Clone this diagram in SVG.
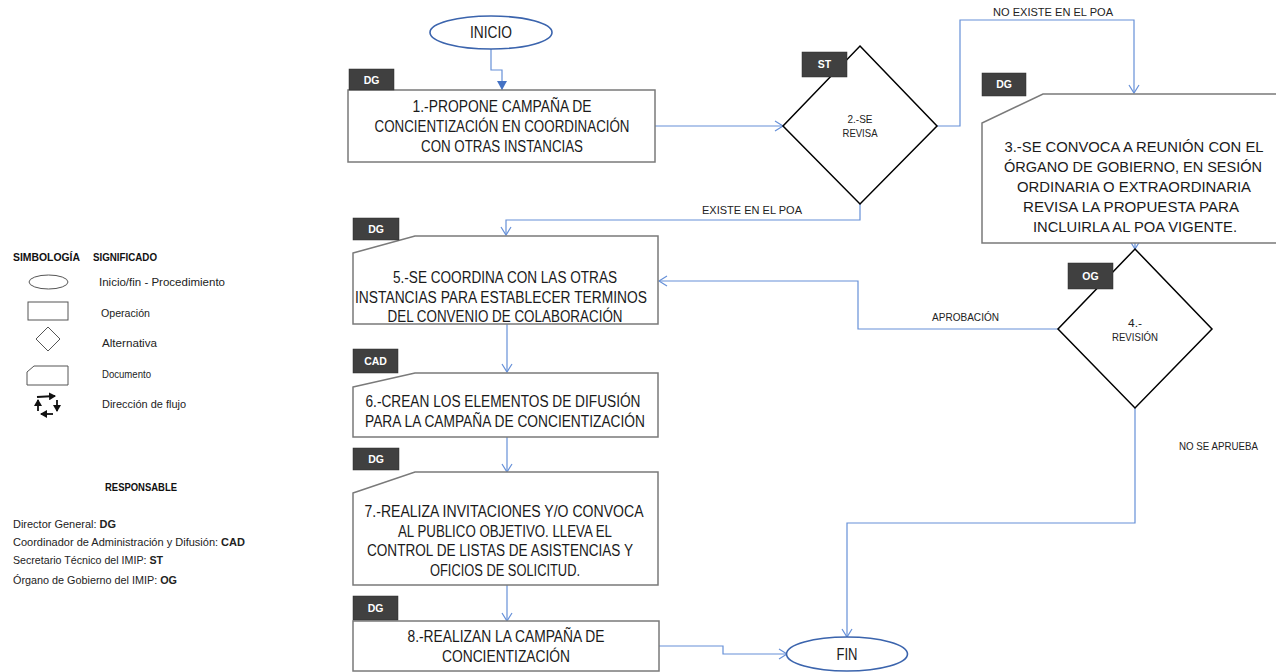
<svg xmlns="http://www.w3.org/2000/svg" width="1276" height="672" viewBox="0 0 1276 672">
  <defs>
    <style>
      .box { fill: #ffffff; stroke: #7a7a7a; stroke-width: 1.5; }
      .dia { fill: #ffffff; stroke: #000000; stroke-width: 1.5; }
      .term { fill: #ffffff; stroke: #3b64ad; stroke-width: 1.6; }
      .tag { fill: #404040; stroke: #2a2a2a; stroke-width: 0.5; }
      .tagt { font-family: "Liberation Sans", Arial, sans-serif; font-size: 10.5px; font-weight: bold; fill: #ffffff; text-anchor: middle; }
      .bt { font-family: "Liberation Sans", Arial, sans-serif; font-size: 16px; fill: #1a1a1a; text-anchor: middle; }
      .bt3 { font-size: 15px; }
      .dt { font-family: "Liberation Sans", Arial, sans-serif; font-size: 11.5px; fill: #222222; text-anchor: middle; }
      .lbl { font-family: "Liberation Sans", Arial, sans-serif; font-size: 11px; fill: #222222; }
      .lg { font-family: "Liberation Sans", Arial, sans-serif; font-size: 10.5px; fill: #222222; }
      .lgb { font-family: "Liberation Sans", Arial, sans-serif; font-size: 10.5px; font-weight: bold; fill: #111111; }
      .conn { fill: none; stroke: #6690d8; stroke-width: 1.2; }
      .lsym { fill: #ffffff; stroke: #555555; stroke-width: 1; }
    </style>
    <marker id="open" markerUnits="userSpaceOnUse" markerWidth="12" markerHeight="12" refX="9" refY="6" orient="auto">
      <path d="M1,1 L9,6 L1,11" fill="none" stroke="#6690d8" stroke-width="1.2"/>
    </marker>
    <marker id="solid" markerUnits="userSpaceOnUse" markerWidth="12" markerHeight="12" refX="9" refY="6" orient="auto">
      <path d="M0,1 L9,6 L0,11 Z" fill="#4472c4"/>
    </marker>
    <marker id="blk" markerUnits="userSpaceOnUse" markerWidth="8" markerHeight="8" refX="6" refY="4" orient="auto">
      <path d="M0,0 L7,4 L0,8 Z" fill="#111111"/>
    </marker>
  </defs>

  <rect width="1276" height="672" fill="#ffffff"/>

  <!-- legend -->
  <g id="legend">
    <text class="lgb" x="13" y="261" textLength="67" lengthAdjust="spacingAndGlyphs">SIMBOLOGÍA</text>
    <text class="lgb" x="93" y="261" textLength="64" lengthAdjust="spacingAndGlyphs">SIGNIFICADO</text>
    <ellipse class="lsym" cx="48.5" cy="282" rx="19.5" ry="7"/>
    <text class="lg" x="99" y="286" textLength="126" lengthAdjust="spacingAndGlyphs">Inicio/fin - Procedimiento</text>
    <rect class="lsym" x="28" y="302" width="40" height="18"/>
    <text class="lg" x="101" y="317" textLength="49" lengthAdjust="spacingAndGlyphs">Operación</text>
    <path class="lsym" d="M48,327 L60,339 L48,351 L36,339 Z"/>
    <text class="lg" x="102" y="347" textLength="55" lengthAdjust="spacingAndGlyphs">Alternativa</text>
    <path class="lsym" d="M27,372 L34,366 L68,366 L68,385 L27,385 Z"/>
    <text class="lg" x="102" y="378" textLength="49" lengthAdjust="spacingAndGlyphs">Documento</text>
    <g stroke="#111111" stroke-width="1.8" fill="none">
      <line x1="37" y1="397" x2="55" y2="396" marker-end="url(#blk)"/>
      <line x1="57" y1="400" x2="57" y2="411" marker-end="url(#blk)"/>
      <line x1="53" y1="414" x2="41" y2="414" marker-end="url(#blk)"/>
      <line x1="38" y1="411" x2="38" y2="400" marker-end="url(#blk)"/>
    </g>
    <text class="lg" x="102" y="408" textLength="84" lengthAdjust="spacingAndGlyphs">Dirección de flujo</text>

    <text class="lgb" x="105" y="491" textLength="72" lengthAdjust="spacingAndGlyphs">RESPONSABLE</text>
    <text class="lg" x="13" y="528" textLength="103" lengthAdjust="spacingAndGlyphs">Director General: <tspan font-weight="bold">DG</tspan></text>
    <text class="lg" x="13" y="546" textLength="232" lengthAdjust="spacingAndGlyphs">Coordinador de Administración y Difusión: <tspan font-weight="bold">CAD</tspan></text>
    <text class="lg" x="13" y="564" textLength="150" lengthAdjust="spacingAndGlyphs">Secretario Técnico del IMIP: <tspan font-weight="bold">ST</tspan></text>
    <text class="lg" x="13" y="584" textLength="164" lengthAdjust="spacingAndGlyphs">Órgano de Gobierno del IMIP: <tspan font-weight="bold">OG</tspan></text>
  </g>

  <!-- connectors -->
  <g id="connectors">
    <path class="conn" d="M491,49 V70 H502 V90" marker-end="url(#solid)" stroke="#4472c4"/>
    <path class="conn" d="M655,126 H783" marker-end="url(#open)"/>
    <path class="conn" d="M937,126 H960 V20 H1134 V93" marker-end="url(#open)"/>
    <path class="conn" d="M860,204 V220 H506 V235" marker-end="url(#open)"/>
    <path class="conn" d="M1135,243 V249" marker-end="url(#open)"/>
    <path class="conn" d="M1058,329 H858 V281 H659" marker-end="url(#open)"/>
    <path class="conn" d="M1135,408 V523 H847 V637" marker-end="url(#open)"/>
    <path class="conn" d="M507,324 V372" marker-end="url(#open)"/>
    <path class="conn" d="M507,437 V472" marker-end="url(#open)"/>
    <path class="conn" d="M507,585 V621" marker-end="url(#open)"/>
    <path class="conn" d="M659,646 H723 V654 H787" marker-end="url(#open)"/>
    <text class="lbl" x="993" y="16" textLength="120" lengthAdjust="spacingAndGlyphs">NO EXISTE  EN EL POA</text>
    <text class="lbl" x="702" y="214" textLength="100" lengthAdjust="spacingAndGlyphs">EXISTE  EN EL POA</text>
    <text class="lbl" x="932" y="321" textLength="67" lengthAdjust="spacingAndGlyphs">APROBACIÓN</text>
    <text class="lbl" x="1179" y="450" textLength="79" lengthAdjust="spacingAndGlyphs">NO SE APRUEBA</text>
  </g>

  <!-- start -->
  <g id="inicio">
    <ellipse class="term" cx="491" cy="32.5" rx="61" ry="16.5"/>
    <text class="bt" x="491" y="38" font-size="14" textLength="42" lengthAdjust="spacingAndGlyphs">INICIO</text>
  </g>

  <!-- step 1 -->
  <g id="paso1">
    <rect class="box" x="348" y="90" width="307" height="72" stroke="#5a5a5a"/>
    <rect class="tag" x="349" y="69" width="45" height="21"/>
    <text class="tagt" x="371.5" y="84">DG</text>
    <text class="bt" x="502" y="112" textLength="179" lengthAdjust="spacingAndGlyphs">1.-PROPONE CAMPAÑA DE</text>
    <text class="bt" x="502" y="132" textLength="255" lengthAdjust="spacingAndGlyphs">CONCIENTIZACIÓN EN COORDINACIÓN</text>
    <text class="bt" x="502" y="152" textLength="162" lengthAdjust="spacingAndGlyphs">CON OTRAS INSTANCIAS</text>
  </g>

  <!-- step 2 -->
  <g id="paso2">
    <path class="dia" d="M860,46 L937,126 L860,204 L783,126 Z"/>
    <rect class="tag" x="802" y="52" width="45" height="25"/>
    <text class="tagt" x="824.5" y="68">ST</text>
    <text class="dt" x="860" y="123" textLength="25" lengthAdjust="spacingAndGlyphs">2.-SE</text>
    <text class="dt" x="860" y="137" textLength="35" lengthAdjust="spacingAndGlyphs">REVISA</text>
  </g>

  <!-- step 3: document shape running past the right edge -->
  <g id="paso3">
    <path class="box" d="M1280,243 L982,243 L982,123 L1043,94 L1280,94"/>
    <rect class="tag" x="982" y="73" width="44" height="23"/>
    <text class="tagt" x="1004" y="88">DG</text>
    <text class="bt bt3" x="1134" y="152" textLength="259" lengthAdjust="spacingAndGlyphs">3.-SE CONVOCA A REUNIÓN CON EL</text>
    <text class="bt bt3" x="1133" y="172" textLength="258" lengthAdjust="spacingAndGlyphs">ÓRGANO DE GOBIERNO, EN SESIÓN</text>
    <text class="bt bt3" x="1134" y="192" textLength="234" lengthAdjust="spacingAndGlyphs">ORDINARIA O EXTRAORDINARIA</text>
    <text class="bt bt3" x="1131" y="212" textLength="216" lengthAdjust="spacingAndGlyphs">REVISA LA PROPUESTA  PARA</text>
    <text class="bt bt3" x="1135" y="232" textLength="204" lengthAdjust="spacingAndGlyphs">INCLUIRLA AL POA VIGENTE.</text>
  </g>

  <!-- step 4 -->
  <g id="paso4">
    <path class="dia" d="M1135,249 L1212,329 L1135,408 L1058,329 Z"/>
    <rect class="tag" x="1068" y="263" width="45" height="26"/>
    <text class="tagt" x="1090.5" y="280">OG</text>
    <text class="dt" x="1135" y="327" textLength="14" lengthAdjust="spacingAndGlyphs">4.-</text>
    <text class="dt" x="1135" y="341" textLength="46" lengthAdjust="spacingAndGlyphs">REVISIÓN</text>
  </g>

  <!-- step 5 -->
  <g id="paso5">
    <path class="box" d="M353,253 L415,236 L658,236 L658,324 L353,324 Z"/>
    <rect class="tag" x="353" y="218" width="46" height="22"/>
    <text class="tagt" x="376" y="233">DG</text>
    <text class="bt" x="505" y="283" textLength="224" lengthAdjust="spacingAndGlyphs">5.-SE COORDINA CON LAS OTRAS</text>
    <text class="bt" x="501" y="303" textLength="292" lengthAdjust="spacingAndGlyphs">INSTANCIAS PARA ESTABLECER TERMINOS</text>
    <text class="bt" x="505" y="322" textLength="235" lengthAdjust="spacingAndGlyphs">DEL CONVENIO DE COLABORACIÓN</text>
  </g>

  <!-- step 6 -->
  <g id="paso6">
    <path class="box" d="M353,387 L415,373 L658,373 L658,437 L353,437 Z"/>
    <rect class="tag" x="353" y="349" width="45" height="24"/>
    <text class="tagt" x="375.5" y="365">CAD</text>
    <text class="bt" x="503" y="407" textLength="275" lengthAdjust="spacingAndGlyphs">6.-CREAN LOS ELEMENTOS DE DIFUSIÓN</text>
    <text class="bt" x="505" y="427" textLength="280" lengthAdjust="spacingAndGlyphs">PARA LA CAMPAÑA DE CONCIENTIZACIÓN</text>
  </g>

  <!-- step 7 -->
  <g id="paso7">
    <path class="box" d="M353,493 L415,472 L658,472 L658,585 L353,585 Z"/>
    <rect class="tag" x="353" y="448" width="46" height="22"/>
    <text class="tagt" x="376" y="463">DG</text>
    <text class="bt" x="504" y="517" textLength="279" lengthAdjust="spacingAndGlyphs">7.-REALIZA INVITACIONES Y/O CONVOCA</text>
    <text class="bt" x="505" y="537" textLength="214" lengthAdjust="spacingAndGlyphs">AL PUBLICO OBJETIVO. LLEVA EL</text>
    <text class="bt" x="500" y="556" textLength="266" lengthAdjust="spacingAndGlyphs">CONTROL DE LISTAS DE ASISTENCIAS Y</text>
    <text class="bt" x="505" y="576" textLength="150" lengthAdjust="spacingAndGlyphs">OFICIOS DE SOLICITUD.</text>
  </g>

  <!-- step 8 -->
  <g id="paso8">
    <rect class="box" x="353" y="621" width="306" height="50"/>
    <rect class="tag" x="353" y="596" width="45" height="24"/>
    <text class="tagt" x="375.5" y="612">DG</text>
    <text class="bt" x="506" y="642" textLength="197" lengthAdjust="spacingAndGlyphs">8.-REALIZAN LA CAMPAÑA DE</text>
    <text class="bt" x="506" y="662" textLength="128" lengthAdjust="spacingAndGlyphs">CONCIENTIZACIÓN</text>
  </g>

  <!-- end -->
  <g id="fin">
    <ellipse class="term" cx="847" cy="654" rx="60.5" ry="17"/>
    <text class="bt" x="847" y="660" font-size="14" textLength="21" lengthAdjust="spacingAndGlyphs">FIN</text>
  </g>
</svg>
